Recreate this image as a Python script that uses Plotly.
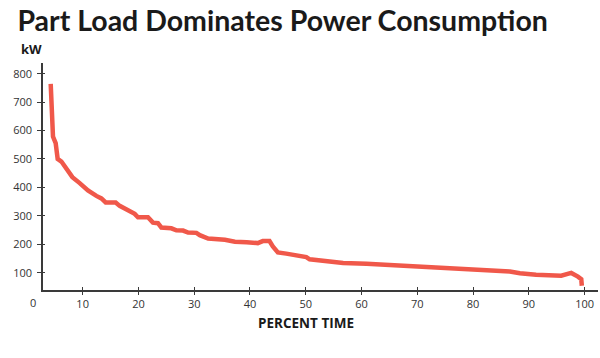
import plotly.graph_objects as go

# Data (percent time vs kW)
percent_time = [4.27, 4.39, 4.5, 4.68, 5.16, 5.4, 5.52, 6.19, 6.78, 8.16, 9.47, 10.95,
                12.46, 13.36, 14.13, 15.92, 16.64, 18.12, 18.73, 19.33, 19.92, 21.71,
                22.6, 23.5, 24.1, 25.9, 26.8, 28.0, 28.9, 30.4, 31.0, 32.5, 35.5, 37.3,
                39.4, 41.4, 42.3, 43.5, 44.1, 45.0, 46.5, 48.3, 50.1, 50.7, 54.3, 56.7,
                60.9, 66.8, 74.0, 80.0, 86.6, 88.4, 91.3, 95.8, 97.6, 98.8, 99.4, 99.5]
kw = [764, 697, 614, 579, 556, 532, 500, 491, 473, 436, 415, 389,
      370, 361, 347, 347, 335, 318, 311, 307, 295, 295,
      276, 274, 259, 256, 249, 248, 241, 240, 232, 220, 216, 209,
      207, 204, 211, 211, 192, 171, 167, 159, 155, 147, 141, 134,
      131, 125, 119, 112, 104, 98, 93, 89.5, 99, 86, 77, 54]

x_ticks = [10, 20, 30, 40, 50, 60, 70, 80, 90, 100]
y_ticks = [100, 200, 300, 400, 500, 600, 700, 800]

title_text = "Part Load Dominates Power Consumption"
y_unit = "kW"
x_title = "PERCENT TIME"

axis_color = "#3a3a3a"
text_color = "#333333"
line_color = "#F0584A"

fig = go.Figure()
fig.add_trace(go.Scatter(x=percent_time, y=kw, mode="lines",
                         line=dict(color=line_color, width=4.5),
                         hoverinfo="skip", showlegend=False))
# invisible trace to carry the overlay axis (inside tick marks)
fig.add_trace(go.Scatter(x=[50], y=[400], xaxis="x2", yaxis="y2", mode="markers",
                         marker=dict(opacity=0), hoverinfo="skip", showlegend=False))

common_font = dict(family="Open Sans, sans-serif", size=11, color=text_color)

fig.update_layout(
    width=600, height=358,
    margin=dict(l=43, r=2, t=63, b=68),
    paper_bgcolor="white", plot_bgcolor="white",
    hovermode=False,
    xaxis=dict(range=[2.89, 102.4], tickvals=x_ticks, ticks="outside", ticklen=3,
               tickcolor=axis_color, tickwidth=1.3, showline=True, linecolor=axis_color,
               linewidth=1.5, showgrid=False, zeroline=False, tickfont=common_font),
    yaxis=dict(range=[39, 837.6], tickvals=y_ticks, ticks="outside", ticklen=4,
               tickcolor=axis_color, tickwidth=1.3, showline=True, linecolor=axis_color,
               linewidth=1.5, showgrid=False, zeroline=False, tickfont=common_font,
               ticklabelstandoff=3),
    xaxis2=dict(range=[2.89, 102.4], tickvals=x_ticks, ticks="inside", ticklen=3,
                tickcolor=axis_color, tickwidth=1.3, showticklabels=False, showline=False,
                showgrid=False, zeroline=False, overlaying="x", anchor="y"),
    yaxis2=dict(range=[39, 837.6], tickvals=y_ticks, ticks="inside", ticklen=2,
                tickcolor=axis_color, tickwidth=1.3, showticklabels=False, showline=False,
                showgrid=False, zeroline=False, overlaying="y", anchor="x"),
    title=dict(text="<b>" + title_text + "</b>", xref="container", x=0.029, xanchor="left",
               yref="container", y=0.94, yanchor="middle",
               font=dict(family="Lato, sans-serif", size=28.5, color="#1a1a1a")),
)

fig.add_annotation(text="<b>" + y_unit + "</b>", xref="paper", yref="paper",
                   x=-0.044, y=1.063, xanchor="left", yanchor="middle", showarrow=False,
                   font=dict(family="Open Sans, sans-serif", size=13, color="#1a1a1a"))
fig.add_annotation(text="0", xref="paper", yref="paper", x=-0.018, y=-0.057,
                   xanchor="center", yanchor="middle", showarrow=False, font=common_font)
fig.add_annotation(text="<b>" + x_title + "</b>", xref="paper", yref="paper",
                   x=0.4736, y=-0.1456, xanchor="center", yanchor="middle", showarrow=False,
                   font=dict(family="Open Sans, sans-serif", size=13.5, color="#1a1a1a"))

fig.write_html("out.html", config={"displayModeBar": False},
               post_script="document.body.style.margin='0';")
